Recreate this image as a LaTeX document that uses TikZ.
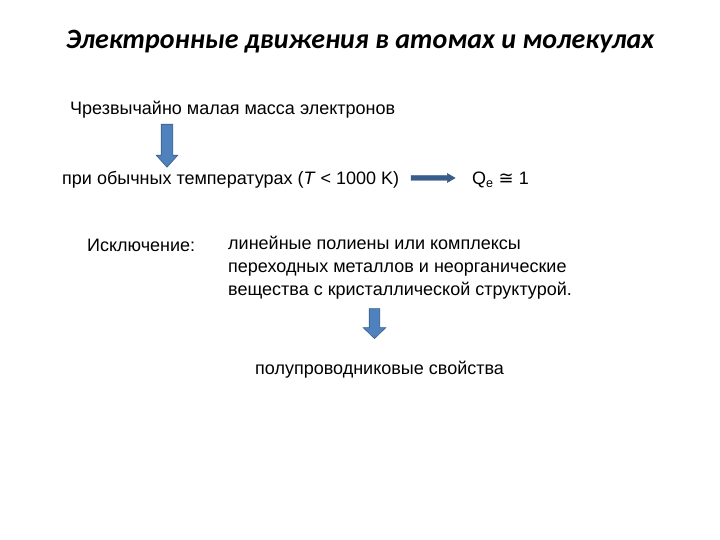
\documentclass[tikz,border=0pt]{standalone}
\usepackage{fontspec}
\setmainfont{Liberation Sans}
\newfontfamily\titlefont{Carlito}
\newfontfamily\symfont{DejaVu Sans}
\usetikzlibrary{shapes.arrows}
\definecolor{arrfill}{HTML}{4F81BD}
\definecolor{arrline}{HTML}{385D8A}
\tikzset{
  txt/.style={inner sep=0pt, font=\fontsize{18}{23}\selectfont},
  barrow/.style={single arrow, draw=arrline, fill=arrfill, line width=0.6pt, inner xsep=0pt}
}
\begin{document}
\begin{tikzpicture}[x=1pt,y=-1pt]
\useasboundingbox (0,0) rectangle (720,540);
\node[inner sep=0pt, font=\titlefont\bfseries\itshape\fontsize{28}{32}\selectfont] (title) at (360,42) {Электронные движения в атомах и молекулах};
\node[txt, anchor=west] (mass) at (70,110) {Чрезвычайно малая масса электронов};
\node[barrow, rotate=-90, inner ysep=5.5pt, minimum height=43pt, single arrow head extend=5pt, single arrow tip angle=84] (a1) at (167,142.5) {};
\node[txt, anchor=west] (temp) at (62,180) {при обычных температурах (\textit{T} < 1000 K)};
\node[barrow, fill=arrline, line width=0.4pt, inner ysep=2.3pt, minimum height=44pt, single arrow head extend=2pt, single arrow tip angle=60] (a2) at (431,178) {};
\node[txt, anchor=west] (q) at (472,180) {Q\textsubscript{e} {\symfont ≅} 1};
\node[txt, anchor=west] (exc) at (87,245) {Исключение:};
\node[txt, anchor=west, align=left] (list) at (228,268) {линейные полиены или комплексы\\переходных металлов и неорганические\\вещества с кристаллической структурой.};
\node[barrow, rotate=-90, inner ysep=5pt, minimum height=30pt, single arrow head extend=6pt, single arrow tip angle=92] (a3) at (374.5,321) {};
\node[txt, anchor=west] (semi) at (255,370) {полупроводниковые свойства};
\end{tikzpicture}
\end{document}
